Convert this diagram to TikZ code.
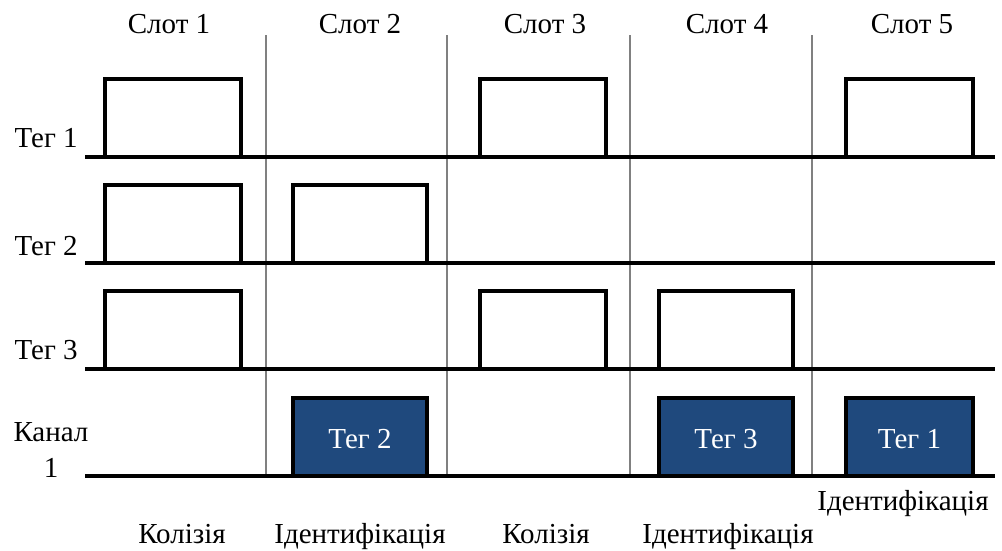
\documentclass[tikz,border=0pt]{standalone}
\usepackage{fontspec}
\setmainfont{Liberation Serif}
\definecolor{kanal}{RGB}{31,73,125}
\tikzset{
  impuls/.style={line width=2pt, line join=miter},
  vis/.style={line width=2.2pt},
  mezha/.style={gray, line width=0.8pt},
  napys/.style={font=\fontsize{16.5}{20}\selectfont, inner sep=0pt},
}
\begin{document}
\begin{tikzpicture}[x=0.02cm, y=-0.02cm]
  \useasboundingbox (0,0) rectangle (1002,551);
  % Межі слотів
  \foreach \x in {266,447,630,812}
    \draw[mezha] (\x,35) -- (\x,478);
  % Заголовки слотів
  \foreach \x/\n in {169/1,360/2,545/3,727/4,912/5}
    \node[napys, anchor=base] (slot\n) at (\x,33) {Слот \n};
  % Часові осі
  \foreach \y in {157,263,369,476}
    \draw[vis] (85,\y) -- (995,\y);
  % Підписи тегів
  \foreach \y/\n in {147/1,255/2,359/3}
    \node[napys, anchor=base east] (teg\n) at (78,\y) {Тег \n};
  \node[napys, align=center] (kanal) at (51,450) {Канал\\1};
  % Відповіді тегів
  \foreach \a/\b/\y in {105/241/157, 480/606/157, 846/973/157,
                        105/241/263, 293/427/263,
                        105/241/369, 480/606/369, 659/793/369}
    \draw[impuls] (\a,\y) -- (\a,\y-78) -- (\b,\y-78) -- (\b,\y);
  % Канал
  \foreach \a/\b/\t in {293/427/2, 659/793/3, 846/973/1} {
    \draw[impuls, fill=kanal] (\a,476) rectangle (\b,398);
    \node[napys, white, anchor=base] (kanal\t) at ({(\a+\b)/2},448) {Тег \t};
  }
  % Результат слотів
  \node[napys, anchor=base] (rez1) at (182,543) {Колізія};
  \node[napys, anchor=base] (rez2) at (360,543) {Ідентифікація};
  \node[napys, anchor=base] (rez3) at (546,543) {Колізія};
  \node[napys, anchor=base] (rez4) at (728,543) {Ідентифікація};
  \node[napys, anchor=base] (rez5) at (903,510) {Ідентифікація};
\end{tikzpicture}
\end{document}
